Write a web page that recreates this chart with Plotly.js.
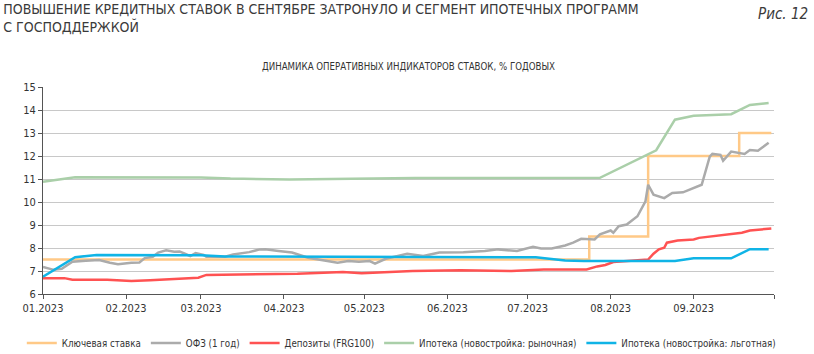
<!DOCTYPE html>
<html>
<head>
<meta charset="utf-8">
<script src="https://cdn.plot.ly/plotly-3.0.1.min.js"></script>
<style>html,body{margin:0;padding:0;background:#fff;}#chart{width:814px;height:354px;}</style>
</head>
<body>
<div id="chart"></div>
<script>
// ---- Data ----
var keyDates = ['2023-01-01','2023-07-24','2023-08-15','2023-09-18','2023-09-30'];
var keyVals  = [7.5, 8.5, 12, 13, 13];

var ofzDates = ['2023-01-01','2023-01-05','2023-01-08','2023-01-12','2023-01-17','2023-01-22','2023-01-26','2023-01-29','2023-02-03','2023-02-06','2023-02-08','2023-02-11','2023-02-13','2023-02-16','2023-02-19','2023-02-21','2023-02-23','2023-02-25','2023-02-27','2023-03-02','2023-03-03','2023-03-10','2023-03-13','2023-03-19','2023-03-23','2023-03-25','2023-03-30','2023-04-04','2023-04-10','2023-04-15','2023-04-21','2023-04-25','2023-04-29','2023-05-03','2023-05-05','2023-05-09','2023-05-17','2023-05-23','2023-05-29','2023-06-07','2023-06-15','2023-06-20','2023-06-27','2023-07-03','2023-07-06','2023-07-10','2023-07-15','2023-07-18','2023-07-21','2023-07-26','2023-07-28','2023-08-01','2023-08-02','2023-08-04','2023-08-07','2023-08-11','2023-08-14','2023-08-15','2023-08-17','2023-08-21','2023-08-24','2023-08-28','2023-08-31','2023-09-04','2023-09-07','2023-09-08','2023-09-11','2023-09-12','2023-09-15','2023-09-20','2023-09-22','2023-09-25','2023-09-27','2023-09-29'];
var ofzVals  = [7.18,7.05,7.1,7.4,7.45,7.48,7.36,7.29,7.36,7.37,7.56,7.62,7.8,7.9,7.84,7.85,7.75,7.65,7.78,7.7,7.62,7.62,7.72,7.82,7.94,7.95,7.87,7.8,7.58,7.48,7.36,7.43,7.4,7.43,7.32,7.53,7.75,7.65,7.8,7.82,7.87,7.94,7.87,8.05,7.98,7.98,8.11,8.23,8.4,8.37,8.59,8.76,8.66,8.95,9.02,9.38,10.03,10.75,10.32,10.17,10.39,10.42,10.56,10.75,11.97,12.09,12.05,11.79,12.19,12.09,12.26,12.23,12.4,12.58];

var depDates = ['2023-01-01','2023-01-09','2023-01-12','2023-01-25','2023-02-03','2023-02-10','2023-02-28','2023-03-03','2023-04-06','2023-04-23','2023-04-30','2023-05-19','2023-06-06','2023-06-25','2023-07-07','2023-07-23','2023-07-27','2023-07-30','2023-08-02','2023-08-15','2023-08-17','2023-08-19','2023-08-21','2023-08-22','2023-08-26','2023-09-01','2023-09-03','2023-09-15','2023-09-19','2023-09-22','2023-09-30'];
var depVals  = [6.69,6.69,6.62,6.62,6.57,6.6,6.71,6.83,6.88,6.96,6.9,7.0,7.03,7.0,7.07,7.07,7.2,7.26,7.39,7.5,7.75,7.94,8.01,8.23,8.33,8.37,8.44,8.59,8.66,8.76,8.85];

var mktDates = ['2023-01-01','2023-01-13','2023-03-01','2023-03-12','2023-04-03','2023-05-01','2023-05-20','2023-07-28','2023-08-18','2023-08-25','2023-09-01','2023-09-15','2023-09-22','2023-09-29'];
var mktVals  = [10.88,11.08,11.07,11.02,10.98,11.0,11.04,11.05,12.25,13.58,13.75,13.82,14.22,14.3];

var prfDates = ['2023-01-01','2023-01-13','2023-01-21','2023-02-15','2023-03-01','2023-03-10','2023-07-04','2023-07-15','2023-07-22','2023-08-25','2023-09-01','2023-09-15','2023-09-22','2023-09-29'];
var prfVals  = [6.75,7.6,7.7,7.7,7.68,7.63,7.6,7.46,7.44,7.44,7.55,7.55,7.95,7.95];

var seriesNames = ['Ключевая ставка','ОФЗ (1 год)','Депозиты (FRG100)','Ипотека (новостройка: рыночная)','Ипотека (новостройка: льготная)'];
var tickVals = ['2023-01-01','2023-02-01','2023-03-01','2023-04-01','2023-05-01','2023-06-01','2023-07-01','2023-08-01','2023-09-01','2023-10-01'];
var tickText = ['01.2023','02.2023','03.2023','04.2023','05.2023','06.2023','07.2023','08.2023','09.2023',''];

var FONT = 'DejaVu Sans Condensed, Liberation Sans Narrow, Roboto, sans-serif';

var traces = [
  {x: keyDates, y: keyVals, name: seriesNames[0], mode: 'lines', line: {color: '#FFC987', width: 2.5, shape: 'hv'}},
  {x: ofzDates, y: ofzVals, name: seriesNames[1], mode: 'lines', line: {color: '#ABABAB', width: 2.5}},
  {x: depDates, y: depVals, name: seriesNames[2], mode: 'lines', line: {color: '#FF5252', width: 2.5}},
  {x: mktDates, y: mktVals, name: seriesNames[3], mode: 'lines', line: {color: '#AACFA9', width: 2.5}},
  {x: prfDates, y: prfVals, name: seriesNames[4], mode: 'lines', line: {color: '#10B4E6', width: 2.5}}
];

var layout = {
  width: 814, height: 354,
  margin: {l: 43, r: 40, t: 87, b: 60, autoexpand: false},
  paper_bgcolor: '#fff', plot_bgcolor: '#fff',
  font: {family: FONT, size: 11, color: '#333'},
  title: {
    text: 'ПОВЫШЕНИЕ КРЕДИТНЫХ СТАВОК В СЕНТЯБРЕ ЗАТРОНУЛО И СЕГМЕНТ ИПОТЕЧНЫХ ПРОГРАММ<br>С ГОСПОДДЕРЖКОЙ',
    x: 0.004, xanchor: 'left', xref: 'container',
    y: 0.961, yanchor: 'top', yref: 'container',
    font: {family: FONT, size: 14, color: '#3a3a3a'}
  },
  xaxis: {
    type: 'date', range: ['2023-01-01','2023-10-01'],
    tickvals: tickVals, ticktext: tickText,
    showgrid: false, zeroline: false,
    showline: true, linecolor: '#555', linewidth: 1,
    ticks: 'outside', ticklen: 4, tickcolor: '#555',
    tickfont: {family: FONT, size: 11, color: '#333'}
  },
  yaxis: {
    range: [6, 15], dtick: 1, tick0: 6,
    showgrid: true, gridcolor: '#C8C8C8', gridwidth: 1,
    zeroline: false, showline: true, linecolor: '#555', linewidth: 1,
    ticks: 'outside', ticklen: 4, tickcolor: '#555',
    tickfont: {family: FONT, size: 11, color: '#333'}
  },
  legend: {
    orientation: 'h', xref: 'paper', yref: 'paper',
    x: -0.029, xanchor: 'left', y: -0.237, yanchor: 'middle',
    font: {family: FONT, size: 9.7, color: '#333'},
    bgcolor: 'rgba(0,0,0,0)'
  },
  showlegend: true,
  annotations: [
    {text: 'ДИНАМИКА ОПЕРАТИВНЫХ ИНДИКАТОРОВ СТАВОК, % ГОДОВЫХ', xref: 'paper', yref: 'paper',
     x: 0.5, y: 1.101, xanchor: 'center', yanchor: 'middle', showarrow: false,
     font: {family: FONT, size: 9.6, color: '#333'}},
    {text: '<i>Рис. 12</i>', xref: 'paper', yref: 'paper',
     x: 1.049, y: 1.353, xanchor: 'right', yanchor: 'middle', showarrow: false,
     font: {family: FONT, size: 15, color: '#3a3a3a'}}
  ]
};

Plotly.newPlot('chart', traces, layout, {displayModeBar: false, staticPlot: true});
</script>
</body>
</html>
